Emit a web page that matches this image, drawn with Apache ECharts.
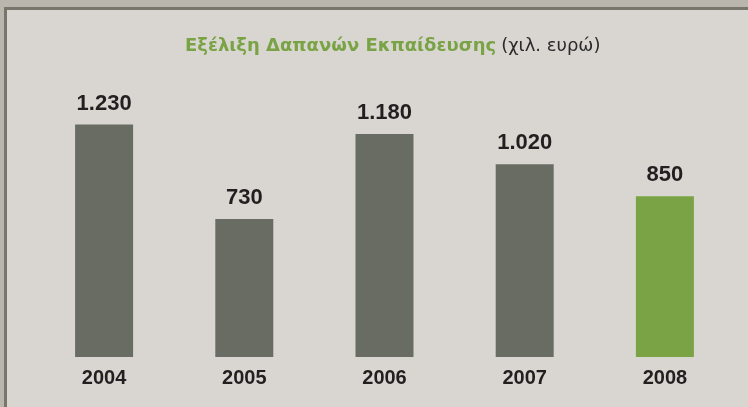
<!DOCTYPE html>
<html>
<head>
<meta charset="utf-8">
<script src="https://cdn.jsdelivr.net/npm/echarts@6/dist/echarts.min.js"></script>
<style>
	html, body { margin: 0; padding: 0; background: #bab6ae; }
	#main { width: 748px; height: 407px; }
</style>
</head>
<body>
<div id="main"></div>
<script>
	// data
	var years = ['2004', '2005', '2006', '2007', '2008'];
	var spending = [1230, 730, 1180, 1020, 850];
	var barColors = ['#696c62', '#696c62', '#696c62', '#696c62', '#79a345'];

	function fmt(v) {
		// thousands with dot, greek style
		return String(v).replace(/\B(?=(\d{3})+(?!\d))/g, '.');
	}

	var chart = echarts.init(document.getElementById('main'));
	chart.setOption({
		backgroundColor: '#bab6ae',
		animation: false,
		graphic: [{
			type: 'rect',
			z: -10,
			shape: { x: 5.5, y: 8.5, width: 800, height: 450 },
			style: { fill: '#d9d6d1', stroke: '#76766a', lineWidth: 3 }
		}],
		title: {
			text: '{b|Εξέλιξη Δαπανών Εκπαίδευσης} {n|(χιλ. ευρώ)}',
			left: 180,
			top: 32,
			textStyle: {
				rich: {
					b: { fontFamily: 'DejaVu Sans', fontWeight: 'bold', fontSize: 18, color: '#79a345' },
					n: { fontFamily: 'DejaVu Sans', fontWeight: 'normal', fontSize: 18, color: '#2b2a2a' }
				}
			}
		},
		grid: { left: 34, right: 13, top: 92.4, bottom: 50 },
		xAxis: {
			type: 'category',
			data: years,
			axisLine: { show: false },
			axisTick: { show: false },
			axisLabel: {
				margin: 11,
				fontFamily: 'Liberation Sans',
				fontWeight: 'bold',
				fontSize: 20,
				color: '#231f20'
			}
		},
		yAxis: {
			type: 'value',
			min: 0,
			max: 1400,
			show: false,
			splitLine: { show: false }
		},
		series: [{
			type: 'bar',
			barWidth: 58,
			data: spending.map(function(v, i) {
				return { value: v, itemStyle: { color: barColors[i] } };
			}),
			label: {
				show: true,
				position: 'top',
				distance: 10,
				fontFamily: 'Liberation Sans',
				fontWeight: 'bold',
				fontSize: 22,
				color: '#231f20',
				formatter: function(p) { return fmt(p.value); }
			}
		}]
	});
</script>
</body>
</html>
